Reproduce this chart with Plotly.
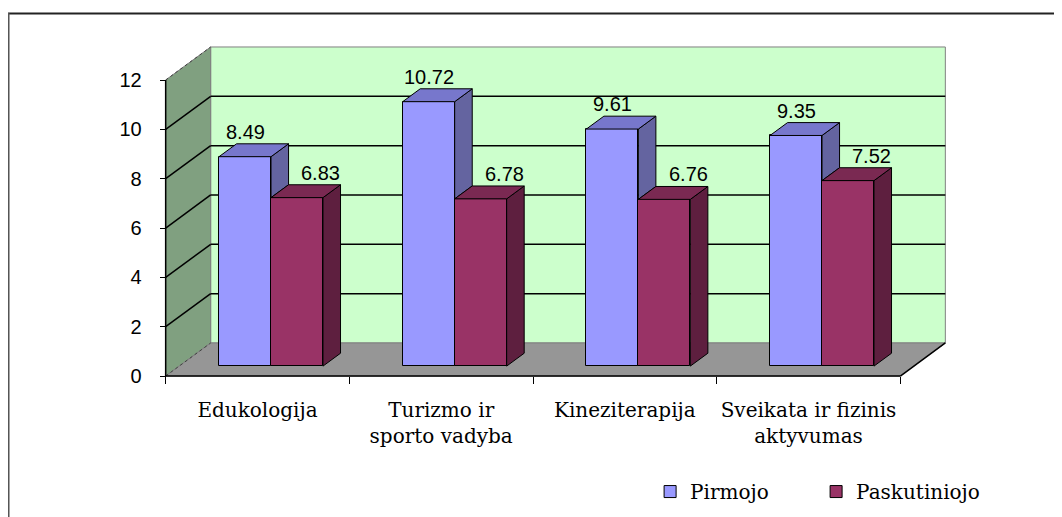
import plotly.graph_objects as go

# ---------------- data ----------------
categories = ["Edukologija", "Turizmo ir<br>sporto vadyba", "Kineziterapija",
              "Sveikata ir fizinis<br>aktyvumas"]
pirmojo = [8.49, 10.72, 9.61, 9.35]
paskutiniojo = [6.83, 6.78, 6.76, 7.52]
series_names = ["Pirmojo", "Paskutiniojo"]
y_tick_values = [0, 2, 4, 6, 8, 10, 12]

# ---------------- style ----------------
FRONT = ["#9999FF", "#993366"]
TOP = ["#7777CC", "#7A2952"]
SIDE = ["#6464A0", "#5E1F3F"]
WALL_BACK = "#CCFFCC"
WALL_SIDE = "#80A080"
FLOOR = "#969696"
EDGE = "#808080"
SANS = "Liberation Sans"
SERIF = "DejaVu Serif"

WIN_W, WIN_H = 1062, 517
OFF = 8                      # page body margin
W, H = WIN_W - OFF, WIN_H - OFF
n = len(categories)
ymax = y_tick_values[-1]
DX, DY = 0.245, 1.34          # depth of the 3D box (category units, value units)
F0, F1 = 0.30, 0.69            # bar front / back as fraction of depth
BW = 0.283                     # bar width (category units)
dfx, dfy = F0 * DX, F0 * DY
ddx, ddy = (F1 - F0) * DX, (F1 - F0) * DY

# pixel mapping of the front plane (window pixels)
X_PX0, X_SCALE = 166 - OFF, 183.5
Y_PX0, Y_SCALE = 376 - OFF, 24.66
xa, xb = -0.02, n + DX + 0.02
ya, yb = -0.08, ymax + DY + 0.08
ml = X_PX0 + xa * X_SCALE
pw = (xb - xa) * X_SCALE
mr = W - ml - pw
mt = Y_PX0 - yb * Y_SCALE
ph = (yb - ya) * Y_SCALE
mb = H - mt - ph


def paper_x(px):
    return (px - OFF - ml) / pw


def paper_y(py):
    return (mt + ph - (py - OFF)) / ph


series = [pirmojo, paskutiniojo]
fig = go.Figure()

# front faces as bars
for s, vals in enumerate(series):
    centers = [i + 0.5 + dfx + (s - 0.5) * BW for i in range(n)]
    fig.add_trace(go.Bar(
        x=centers, y=vals, base=dfy, width=BW, name=series_names[s],
        marker=dict(color=FRONT[s], line=dict(color="black", width=1)),
        hoverinfo="skip"))

# side and top faces
for i in range(n):
    for s, vals in enumerate(series):
        x0 = i + 0.5 + dfx + (s - 1) * BW
        x1 = x0 + BW
        top = vals[i] + dfy
        if s == 0:
            low = min(vals[i], series[1][i]) + dfy
        else:
            low = dfy
        fig.add_trace(go.Scatter(
            x=[x1, x1, x1 + ddx, x1 + ddx, x1],
            y=[low, top, top + ddy, low + ddy, low],
            mode="lines", fill="toself", fillcolor=SIDE[s],
            line=dict(color="black", width=1), showlegend=False, hoverinfo="skip"))
        fig.add_trace(go.Scatter(
            x=[x0, x1, x1 + ddx, x0 + ddx, x0],
            y=[top, top, top + ddy, top + ddy, top],
            mode="lines", fill="toself", fillcolor=TOP[s],
            line=dict(color="black", width=1), showlegend=False, hoverinfo="skip"))

# invisible trace for the label axis
fig.add_trace(go.Scatter(x=[0.5], y=[0], xaxis="x2", mode="markers",
                         marker=dict(opacity=0), showlegend=False, hoverinfo="skip"))

# data labels
label_xshift = [0, 24]
for s, vals in enumerate(series):
    for i, v in enumerate(vals):
        fig.add_annotation(
            x=i + 0.5 + dfx + (s - 0.5) * BW, y=v + dfy + ddy,
            text=f"{v:.2f}", showarrow=False, yanchor="bottom",
            xshift=label_xshift[s], yshift=-1,
            font=dict(family=SANS, size=20, color="black"))

# walls, floor, gridlines
shapes = []
shapes.append(dict(type="rect", x0=DX, x1=n + DX, y0=DY, y1=ymax + DY,
                   fillcolor=WALL_BACK, line=dict(color=EDGE, width=1), layer="below"))
shapes.append(dict(type="path", path=f"M 0,0 L 0,{ymax} L {DX},{ymax + DY} L {DX},{DY} Z",
                   fillcolor=WALL_SIDE, line=dict(color=EDGE, width=1), layer="below"))
shapes.append(dict(type="path", path=f"M 0,0 L {n},0 L {n + DX},{DY} L {DX},{DY} Z",
                   fillcolor=FLOOR, line=dict(color=EDGE, width=1), layer="below"))
for v in y_tick_values[1:-1]:
    shapes.append(dict(type="line", x0=DX, x1=n + DX, y0=v + DY, y1=v + DY,
                       line=dict(color="black", width=1.5), layer="below"))
    shapes.append(dict(type="line", x0=0, x1=DX, y0=v, y1=v + DY,
                       line=dict(color="black", width=1.5), layer="below"))
shapes.append(dict(type="line", x0=0, x1=DX, y0=0, y1=DY,
                   line=dict(color="#404040", width=1, dash="dot"), layer="below"))
shapes.append(dict(type="line", x0=0, x1=DX, y0=ymax, y1=ymax + DY,
                   line=dict(color="#404040", width=1, dash="dot"), layer="below"))
shapes.append(dict(type="line", x0=0, x1=n, y0=0, y1=0,
                   line=dict(color="black", width=1.5), layer="below"))
shapes.append(dict(type="line", x0=n, x1=n + DX, y0=0, y1=DY,
                   line=dict(color="black", width=1.5), layer="below"))
shapes.append(dict(type="line", x0=0, x1=0, y0=0, y1=ymax,
                   line=dict(color="black", width=1.5), layer="below"))
# outer frame
shapes.append(dict(type="line", xref="paper", yref="paper",
                   x0=paper_x(OFF), x1=paper_x(WIN_W + 10), y0=paper_y(13.5), y1=paper_y(13.5),
                   line=dict(color="#222222", width=2)))
shapes.append(dict(type="line", xref="paper", yref="paper",
                   x0=paper_x(OFF + 1), x1=paper_x(OFF + 1), y0=paper_y(13), y1=paper_y(WIN_H + 10),
                   line=dict(color="#555555", width=2)))

fig.update_layout(
    width=W, height=H, template="none",
    paper_bgcolor="white", plot_bgcolor="rgba(0,0,0,0)",
    margin=dict(l=ml, r=mr, t=mt, b=mb, pad=0, autoexpand=False),
    barmode="overlay", bargap=0, shapes=shapes, showlegend=True,
    xaxis=dict(range=[xa, xb], tickvals=list(range(n + 1)), ticks="outside",
               ticklen=7, tickcolor="black", tickwidth=1, showticklabels=False,
               showgrid=False, zeroline=False, showline=False,
               anchor="free", position=(0 - ya) / (yb - ya)),
    xaxis2=dict(overlaying="x", matches="x", anchor="y", side="bottom",
                tickvals=[i + 0.5 for i in range(n)], ticktext=categories,
                ticks="outside", ticklen=14, tickcolor="rgba(0,0,0,0)",
                showgrid=False, zeroline=False, showline=False,
                tickfont=dict(family=SERIF, size=20, color="black")),
    yaxis=dict(range=[ya, yb], tickvals=y_tick_values, ticks="outside", ticklen=6,
               tickcolor="black", tickwidth=1, showgrid=False, zeroline=False,
               showline=False, anchor="free", position=(0 - xa) / (xb - xa),
               ticklabelstandoff=14,
               tickfont=dict(family=SANS, size=20, color="black")),
    legend=dict(orientation="h", x=paper_x(650), y=paper_y(472),
                xanchor="left", yanchor="top", bgcolor="rgba(0,0,0,0)",
                font=dict(family=SERIF, size=20, color="black"),
                itemwidth=30, entrywidth=121, entrywidthmode="pixels"),
)

fig.write_html("out.html")
